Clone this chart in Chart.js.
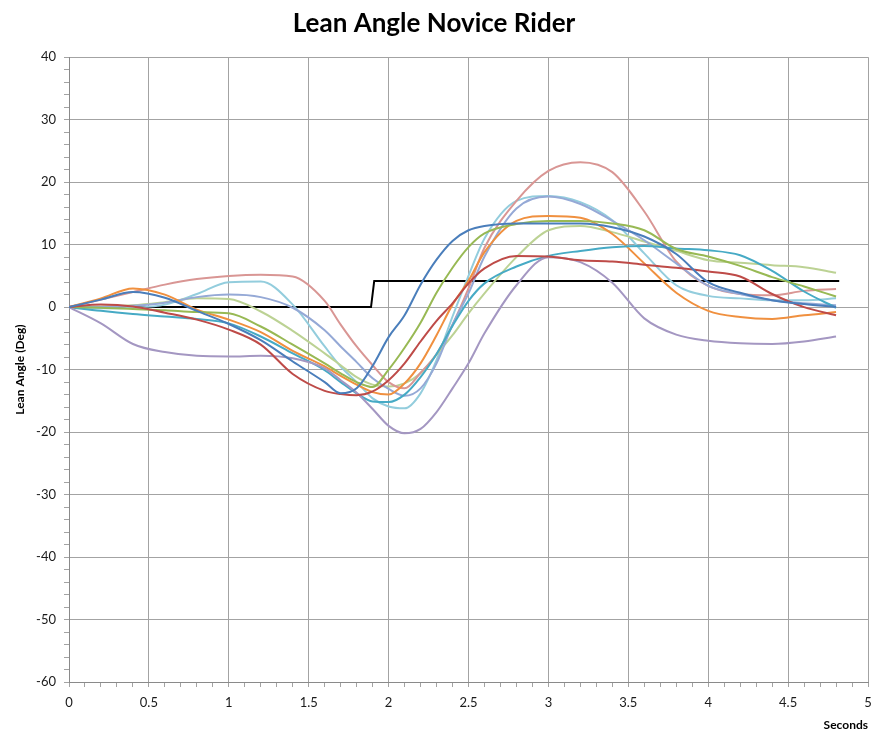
<!DOCTYPE html>
<html>
<head>
<meta charset="utf-8">
<title>Lean Angle Novice Rider</title>
<script src="https://cdn.jsdelivr.net/npm/chart.js@4.4.1/dist/chart.umd.min.js"></script>
<style>
  html, body { margin: 0; padding: 0; background: #fff; }
</style>
</head>
<body>
<canvas id="chart" width="871" height="736"></canvas>
<script>
// sample times (s) shared by the rider runs
const seconds = [0, 0.2, 0.4, 0.6, 0.8, 1.0, 1.2, 1.4, 1.6, 1.7, 1.8, 1.9, 2.0, 2.1, 2.2, 2.3, 2.4, 2.5, 2.6, 2.8, 3.0, 3.2, 3.4, 3.6, 3.8, 4.0, 4.2, 4.4, 4.6, 4.8];

// lean angle (deg) per run
const runBlue      = [0, 1.2, 2.4, 1.5, -0.6, -2.7, -5.3, -8.7, -12.0, -13.8, -13.0, -9.4, -4.8, -1.3, 3.6, 7.6, 10.6, 12.3, 13.0, 13.4, 13.4, 13.4, 12.8, 11.3, 8.5, 4.0, 2.3, 1.1, 0.5, 0.0];
const runRed       = [0, 0.4, 0.1, -0.9, -2.0, -3.6, -6.0, -10.7, -13.4, -13.9, -14.1, -13.5, -11.7, -9.0, -5.5, -2.2, 0.6, 3.8, 6.2, 8.2, 8.1, 7.5, 7.3, 6.8, 6.3, 5.7, 4.9, 2.1, 0.0, -1.3];
const runGreen     = [0, -0.1, -0.3, -0.5, -0.8, -1.0, -3.1, -6.0, -9.0, -10.6, -12.0, -12.8, -10.0, -6.5, -2.5, 2.3, 6.3, 9.6, 11.8, 13.3, 13.8, 13.8, 13.4, 12.3, 9.3, 8.1, 6.6, 4.8, 3.3, 1.7];
const runPurple    = [0, -2.6, -5.9, -7.2, -7.8, -7.9, -7.8, -8.2, -9.8, -11.7, -13.7, -16.3, -19.0, -20.2, -19.5, -16.8, -13.0, -9.0, -4.2, 3.5, 8.0, 7.2, 3.9, -1.8, -4.4, -5.4, -5.8, -5.9, -5.5, -4.7];
const runTeal      = [0, -0.6, -1.1, -1.5, -1.9, -2.6, -4.7, -7.4, -10.1, -12.0, -13.8, -15.1, -15.2, -14.0, -11.2, -7.5, -3.0, 1.0, 3.8, 6.5, 8.2, 9.0, 9.6, 9.8, 9.4, 9.1, 8.3, 5.8, 2.5, -0.1];
const runOrange    = [0, 1.4, 3.0, 2.0, -0.4, -2.0, -4.0, -7.0, -9.5, -11.0, -12.4, -13.6, -14.0, -12.2, -9.0, -4.5, 0.4, 4.2, 8.8, 13.8, 14.6, 14.3, 11.7, 7.0, 2.3, -0.6, -1.6, -1.9, -1.3, -0.8];
const runSteel     = [0, 0.0, 0.2, 0.7, 1.6, 2.0, 1.6, -0.1, -3.7, -6.3, -8.8, -11.4, -13.1, -14.2, -13.0, -9.0, -2.8, 2.2, 8.1, 15.8, 17.7, 16.5, 13.8, 10.7, 7.0, 3.4, 2.1, 1.1, 0.6, 0.3];
const runPink      = [0, 1.2, 2.4, 3.6, 4.5, 5.0, 5.2, 4.9, 1.0, -2.8, -6.3, -9.3, -12.0, -13.0, -10.5, -7.5, -2.8, 3.0, 9.5, 17.0, 21.8, 23.2, 21.6, 15.3, 7.3, 3.4, 2.1, 1.9, 2.6, 2.9];
const runLime      = [0, 0.1, 0.3, 0.8, 1.4, 1.3, -0.7, -3.8, -7.4, -9.3, -11.2, -12.4, -12.7, -12.2, -10.6, -7.6, -4.5, -1.0, 2.2, 8.0, 12.3, 13.0, 12.0, 10.5, 9.0, 7.5, 7.1, 6.7, 6.4, 5.5];
const runSky       = [0, -0.2, -0.1, 0.4, 2.1, 4.0, 4.1, 0.4, -6.3, -9.5, -12.0, -14.6, -15.9, -16.2, -13.8, -8.5, -1.5, 5.0, 11.0, 17.0, 17.8, 16.8, 13.9, 8.6, 3.5, 1.8, 1.4, 1.1, 1.1, 1.4];

// steering input step (black)
const stepSeconds = [0, 1.89, 1.91, 4.82];
const stepValues  = [0, 0, 4.2, 4.2];

const runs = [
  ['Run 1', runBlue,   '#4a7ebb'],
  ['Run 2', runRed,    '#be4b48'],
  ['Run 3', runGreen,  '#98b954'],
  ['Run 4', runPurple, '#a497c2'],
  ['Run 5', runTeal,   '#46aac5'],
  ['Run 6', runOrange, '#f0903f'],
  ['Run 7', runSteel,  '#95a9d6'],
  ['Run 8', runPink,   '#d99694'],
  ['Run 9', runLime,   '#bcd294'],
  ['Run 10', runSky,   '#93cddd'],
];

const pts = (xs, ys) => xs.map((x, i) => ({ x, y: ys[i] }));

const datasets = runs.map(([label, vals, color]) => ({
  label,
  data: pts(seconds, vals),
  borderColor: color,
  borderWidth: 2,
  pointRadius: 0,
  fill: false,
  cubicInterpolationMode: 'monotone',
  order: 0,
}));

datasets.push({
  label: 'Input',
  data: pts(stepSeconds, stepValues),
  borderColor: '#000000',
  borderWidth: 2,
  pointRadius: 0,
  fill: false,
  tension: 0,
  order: 1,
});

const gridGray = '#a3a3a3';
const axisFont = { family: 'Lato, "Open Sans", sans-serif', size: 13 };

new Chart(document.getElementById('chart'), {
  type: 'line',
  data: { datasets },
  options: {
    responsive: false,
    animation: false,
    layout: { padding: { left: 0, right: 3, top: 0, bottom: 0 } },
    plugins: {
      legend: { display: false },
      tooltip: { enabled: false },
      title: {
        display: true,
        text: 'Lean Angle Novice Rider',
        color: '#000',
        font: { family: 'Lato, "Open Sans", sans-serif', size: 26, weight: 'bold' },
        padding: { top: 8, bottom: 18 },
      },
    },
    scales: {
      x: {
        type: 'linear',
        min: 0,
        max: 5,
        afterFit: (s) => { s.height = 54; s.paddingLeft = 0; s.paddingRight = 0; },
        grid: {
          color: (c) => (Math.round(c.tick.value * 10) % 5 === 0 ? gridGray : 'rgba(0,0,0,0)'),
          tickColor: gridGray,
          tickLength: 5,
        },
        border: { color: '#8a8a8a' },
        ticks: {
          stepSize: 0.1,
          autoSkip: false,
          maxTicksLimit: 100,
          maxRotation: 0,
          padding: 8,
          color: '#1a1a1a',
          font: axisFont,
          callback: (v) => (Math.round(v * 10) % 5 === 0 ? String(Math.round(v * 10) / 10) : ''),
        },
        title: {
          display: true,
          text: 'Seconds',
          align: 'end',
          color: '#000',
          font: { family: 'Lato, "Open Sans", sans-serif', size: 12, weight: 'bold' },
          padding: { top: 4, bottom: 4 },
        },
      },
      y: {
        min: -60,
        max: 40,
        afterFit: (s) => { s.width = 69; },
        grid: {
          color: (c) => (c.tick.value % 10 === 0 ? gridGray : 'rgba(0,0,0,0)'),
          tickColor: gridGray,
          tickLength: 5,
        },
        border: { color: '#8a8a8a' },
        ticks: {
          stepSize: 2,
          autoSkip: false,
          maxTicksLimit: 100,
          padding: 8,
          color: '#1a1a1a',
          font: axisFont,
          callback: (v) => (v % 10 === 0 ? String(v) : ''),
        },
        title: {
          display: true,
          text: 'Lean Angle (Deg)',
          color: '#000',
          font: { family: 'Lato, "Open Sans", sans-serif', size: 12, weight: 'bold' },
          padding: { top: 13, bottom: 13 },
        },
      },
    },
  },
});
</script>
</body>
</html>
